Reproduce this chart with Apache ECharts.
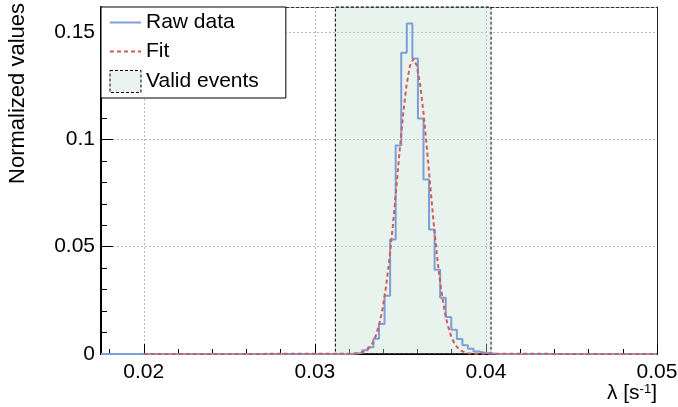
<!DOCTYPE html>
<html><head><meta charset="utf-8">
<script src="https://cdn.jsdelivr.net/npm/echarts@6/dist/echarts.min.js"></script>
<style>html,body{margin:0;padding:0;background:#fff;}#c{width:678px;height:407px;}</style>
</head><body><div id="c"></div>
<script>
// ---- data ----
const histLow = 0.0175;
const histHigh = 0.05;
const histCounts = [
  0,0,0,0,0,0,0,0,0,0,0,0,0,0,0,
  0,0,0,0,0,0,0,0,0,0,0,0,0,0,0,
  0,0,0,0,0,0,0,0,0,0,0,0,0,0,0,
  0.0002,0.0005,0.0017,0.0031,0.0071,0.014,0.0272,0.0533,0.0972,0.1404,
  0.154,0.1377,0.1097,0.0813,0.058,0.0393,0.0262,0.0173,0.0113,0.007,
  0.0041,0.0024,0.0012,0.0006,0.0003,0.0001,
  0,0,0,0,0,0,0,0,0,0,0,0,0,0,0,
  0,0,0,0,0,0,0,0,0,0,0,0,0,0
];
const fitX = [0.02,0.03216,0.03256,0.03276,0.03296,0.03316,0.03336,0.03356,0.03376,0.03396,0.03416,
  0.03436,0.03456,0.03476,0.03496,0.03516,0.03536,0.03556,0.03576,0.03596,0.03616,0.03636,0.03656,
  0.03676,0.03696,0.03716,0.03736,0.03756,0.03776,0.03796,0.03816,0.03836,0.03856,0.03876,0.03896,0.03936,0.05];
const fitY = [0,0.0001,0.0004,0.0008,0.0015,0.0028,0.0049,0.0084,0.0136,0.0211,0.0313,
  0.0443,0.0598,0.0771,0.095,0.1117,0.1253,0.1344,0.1375,0.1344,0.1253,0.1117,0.095,
  0.0771,0.0598,0.0443,0.0313,0.0211,0.0136,0.0084,0.0049,0.0028,0.0015,0.0008,0.0004,0.0001,0];
const validRange = [0.0312, 0.0403];
const xMajorTicks = [0.02, 0.03, 0.04, 0.05];
const xMinorTicks = [0.018,0.022,0.024,0.026,0.028,0.032,0.034,0.036,0.038,0.042,0.044,0.046,0.048];
const yMajorTicks = [0, 0.05, 0.1, 0.15];
const yMinorTicks = [0.01,0.02,0.03,0.04,0.06,0.07,0.08,0.09,0.11,0.12,0.13,0.14,0.16];
const yMax = 0.1617;
const seriesNames = ['Raw data', 'Fit', 'Valid events'];
const xTitle = 'λ [s{sup|-1}]';
const yTitle = 'Normalized values';

// ---- build ----
const binW = (histHigh - histLow) / histCounts.length;
const histData = histCounts.map((v, i) => [histLow + i * binW, v]);
histData.push([histHigh, histCounts[histCounts.length - 1]]);
const fitData = fitX.map((x, i) => [x, fitY[i]]);

const FONT = 'Liberation Sans, Arial, sans-serif';
const FS = 21;
const BLUE = '#7b9fd6', RED = '#d45a5a', BAND = 'rgba(196,224,211,0.38)', BANDL = '#eaf3ef';
const grid = {left: 101, right: 21, top: 7, bottom: 53, outerBoundsMode: 'none', containLabel: false};
const hidden = {axisLine: {show: false}, axisLabel: {show: false}, splitLine: {show: false}, axisTick: {show: false}};
const noSymbol = {color: 'rgba(0,0,0,0)', borderWidth: 0, opacity: 0};

const chart = echarts.init(document.getElementById('c'), null, {renderer: 'canvas'});
chart.setOption({
  animation: false,
  backgroundColor: '#fff',
  grid: grid,
  legend: {
    orient: 'vertical', left: 101, top: 7, padding: [5, 27, 5, 8],
    itemWidth: 31, itemHeight: 22, itemGap: 8, itemTextGap: 10,
    backgroundColor: '#fff', borderColor: '#000', borderWidth: 1, borderRadius: 0,
    selectedMode: false, z: 10,
    textStyle: {fontFamily: FONT, fontSize: FS, color: '#000'},
    data: [
      {name: seriesNames[0], itemStyle: noSymbol},
      {name: seriesNames[1], itemStyle: noSymbol},
      {name: seriesNames[2], icon: 'rect', itemStyle: {color: BANDL, borderColor: '#000', borderWidth: 1, borderType: [3, 2]}}
    ]
  },
  xAxis: [
    {
      type: 'value', position: 'bottom', min: histLow, max: histHigh, splitNumber: 3,
      name: xTitle, nameLocation: 'end', nameGap: 0, nameMoveOverlap: false,
      nameTextStyle: {fontFamily: FONT, fontSize: FS, color: '#000', align: 'right', verticalAlign: 'top', padding: [29, 0, 0, 0],
        rich: {sup: {fontFamily: FONT, fontSize: 13, color: '#000', verticalAlign: 'top'}}},
      axisLine: {onZero: false, lineStyle: {color: '#000', width: 2}},
      axisTick: {inside: true, length: 10, customValues: xMajorTicks, lineStyle: {color: '#000', width: 1}},
      axisLabel: {customValues: xMajorTicks, margin: 8, fontFamily: FONT, fontSize: FS, color: '#000', hideOverlap: false},
      splitLine: {show: true, lineStyle: {color: '#b8b8b8', width: 1, type: [2, 2]}}
    },
    Object.assign({type: 'value', position: 'bottom', min: histLow, max: histHigh}, hidden, {
      axisTick: {show: true, inside: true, length: 5, customValues: xMinorTicks, lineStyle: {color: '#000', width: 1}}
    }),
    Object.assign({type: 'value', position: 'top', min: histLow, max: histHigh}, hidden, {
      axisLine: {show: true, onZero: false, lineStyle: {color: '#333', width: 1, type: [3, 2]}}
    })
  ],
  yAxis: [
    {
      type: 'value', position: 'left', min: 0, max: yMax, interval: 0.05,
      name: yTitle, nameLocation: 'end', nameRotate: 90, nameGap: 4, nameMoveOverlap: false,
      nameTextStyle: {fontFamily: FONT, fontSize: 22, color: '#000', align: 'right', verticalAlign: 'bottom', padding: [0, 0, 72, 0]},
      axisLine: {onZero: false, lineStyle: {color: '#000', width: 2}},
      axisTick: {inside: true, length: 12, customValues: yMajorTicks, lineStyle: {color: '#000', width: 1}},
      axisLabel: {customValues: yMajorTicks, margin: 6, fontFamily: FONT, fontSize: FS, color: '#000', hideOverlap: false},
      splitLine: {show: true, lineStyle: {color: '#b8b8b8', width: 1, type: [2, 2]}}
    },
    Object.assign({type: 'value', position: 'left', min: 0, max: yMax}, hidden, {
      axisTick: {show: true, inside: true, length: 6, customValues: yMinorTicks, lineStyle: {color: '#000', width: 1}}
    }),
    Object.assign({type: 'value', position: 'right', min: 0, max: yMax}, hidden, {
      axisLine: {show: true, onZero: false, lineStyle: {color: '#222', width: 1}}
    })
  ],
  series: [
    {
      name: seriesNames[2], type: 'line', symbol: 'none', xAxisIndex: 0, yAxisIndex: 0, data: [], z: 1,
      itemStyle: {color: BANDL}, lineStyle: {color: BANDL},
      markArea: {silent: true, itemStyle: {color: BAND, borderColor: '#000', borderWidth: 1, borderType: [3, 2]},
        data: [[{xAxis: validRange[0]}, {xAxis: validRange[1]}]]}
    },
    {
      name: seriesNames[0], type: 'line', step: 'end', symbol: 'none', xAxisIndex: 0, yAxisIndex: 0, data: histData,
      showSymbol: false, z: 3, itemStyle: {color: BLUE}, lineStyle: {color: BLUE, width: 2}
    },
    {
      name: seriesNames[1], type: 'line', symbol: 'none', xAxisIndex: 0, yAxisIndex: 0, data: fitData,
      showSymbol: false, z: 4, itemStyle: {color: RED}, lineStyle: {color: RED, width: 2, type: [4, 3]}
    }
  ]
});
</script></body></html>
